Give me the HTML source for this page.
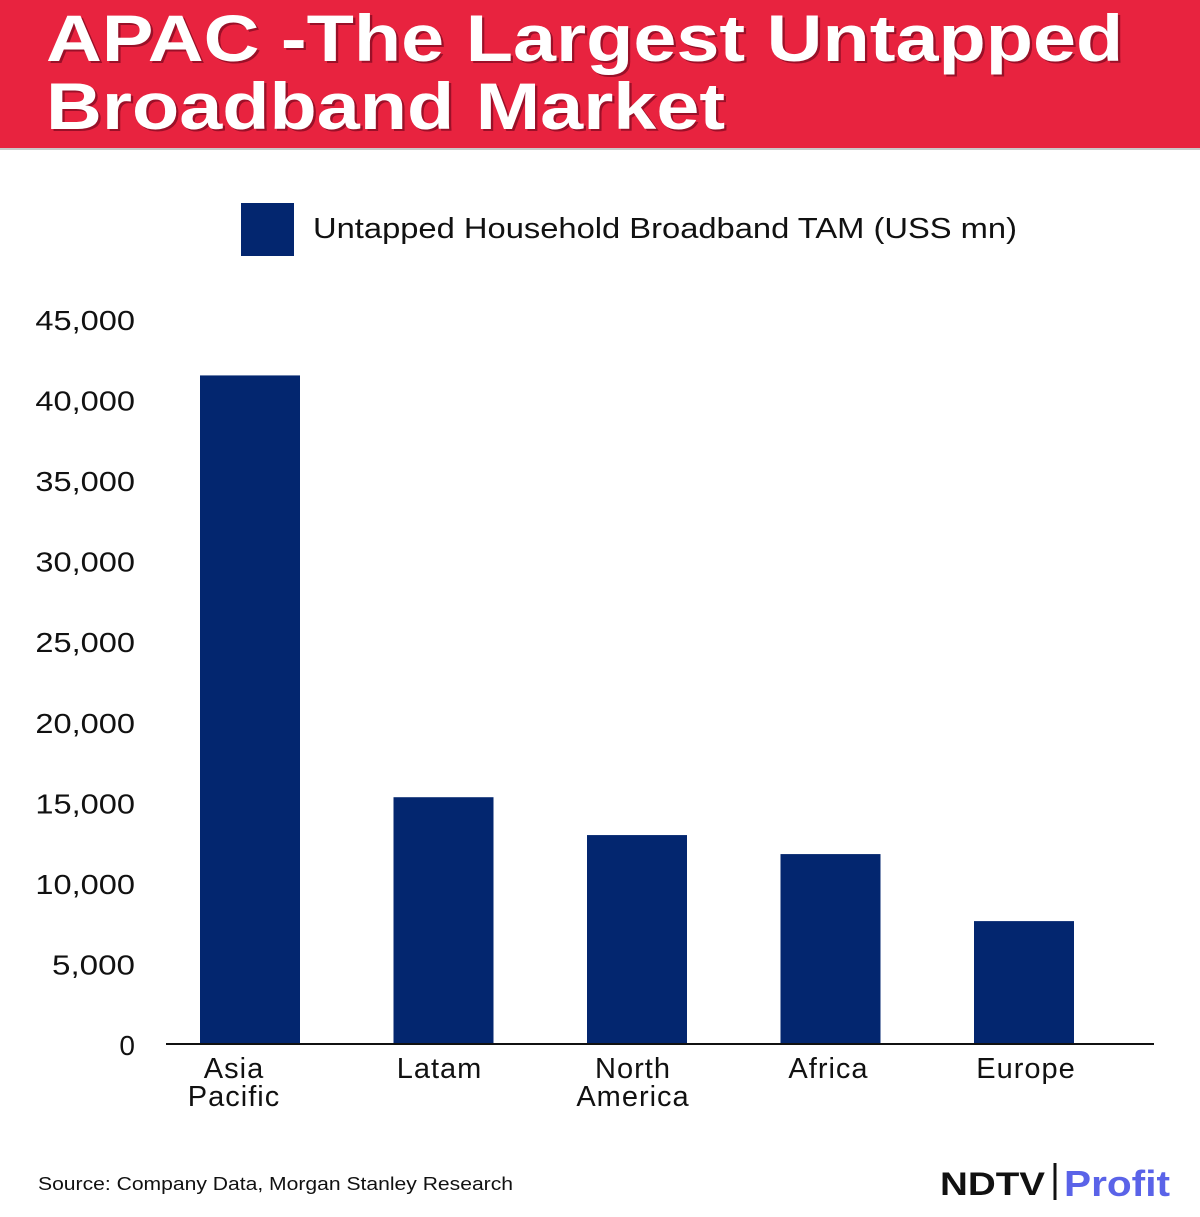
<!DOCTYPE html>
<html><head><meta charset="utf-8"><style>
body{margin:0;width:1200px;height:1217px;background:#fff;font-family:"Liberation Sans",sans-serif;overflow:hidden;position:relative}
#hdr{position:absolute;left:0;top:0;width:1200px;height:148px;background:#e8233f;border-bottom:2px solid #c9c9c9}
#title{position:absolute;left:46px;top:4px;color:#fff;font-weight:bold;font-size:66px;line-height:68px;text-shadow:2px 2px 0 #9a1028;transform:scaleX(1.172);transform-origin:0 0;white-space:nowrap}
svg{position:absolute;left:0;top:0}
</style></head><body>
<div id="hdr"></div>
<div id="title">APAC -The Largest Untapped<br>Broadband Market</div>
<svg id="chart" width="1200" height="1217"></svg>
<script>
const categories=[["Asia","Pacific"],["Latam"],["North","America"],["Africa"],["Europe"]];
const values=[41560,15380,13030,11850,7690];
const ticks=[0,5000,10000,15000,20000,25000,30000,35000,40000,45000];
const tickLabels=["0","5,000","10,000","15,000","20,000","25,000","30,000","35,000","40,000","45,000"];
const NS="http://www.w3.org/2000/svg";
const svg=document.getElementById('chart');
const y=v=>1045-v*(725/45000);
const xc=i=>250+i*193.5;
const labelShift=[-16,-4,-4,-2,2];
function mk(t,a,txt){const e=document.createElementNS(NS,t);for(const k in a)e.setAttribute(k,a[k]);if(txt!==undefined)e.textContent=txt;svg.appendChild(e);return e;}
let e=mk('rect',{x:241,y:203,width:53,height:53,fill:'#03266f'});


e=mk('text',{x:313,y:238,'font-size':29,fill:'#111',textLength:704,lengthAdjust:'spacingAndGlyphs'},'Untapped Household Broadband TAM (USS mn)');


ticks.forEach((t,i)=>{
 const s=tickLabels[i];
 const a={x:135,y:y(t)+10,'font-size':28,'text-anchor':'end',fill:'#111'};
 if(s.length>1){a.textLength=s.length*16.6;a.lengthAdjust='spacingAndGlyphs';}
 const l=mk('text',a,s);
 
 
});
values.forEach((v,i)=>{
 const b=mk('rect',{x:xc(i)-50,y:y(v),width:100,height:1045-y(v),fill:'#03266f'});
 
 
 categories[i].forEach((w,j)=>{
  const t=mk('text',{x:xc(i)+labelShift[i],y:1078+j*28,'font-size':29,'text-anchor':'middle',fill:'#111','letter-spacing':1},w);
  
  
 });
});
e=mk('line',{x1:166,x2:1154,y1:1044,y2:1044,stroke:'#111','stroke-width':2});


e=mk('text',{x:38,y:1190,'font-size':18,fill:'#111',textLength:475,lengthAdjust:'spacingAndGlyphs'},'Source: Company Data, Morgan Stanley Research');


e=mk('text',{x:940,y:1195,'font-size':32,'font-weight':'bold',fill:'#111',textLength:105,lengthAdjust:'spacingAndGlyphs'},'NDTV');


e=mk('line',{x1:1055,x2:1055,y1:1163,y2:1200,stroke:'#111','stroke-width':3});


e=mk('text',{x:1064,y:1196,'font-size':36,'font-weight':'bold',fill:'#5a63e8',textLength:106,lengthAdjust:'spacingAndGlyphs'},'Profit');


</script>
</body></html>
